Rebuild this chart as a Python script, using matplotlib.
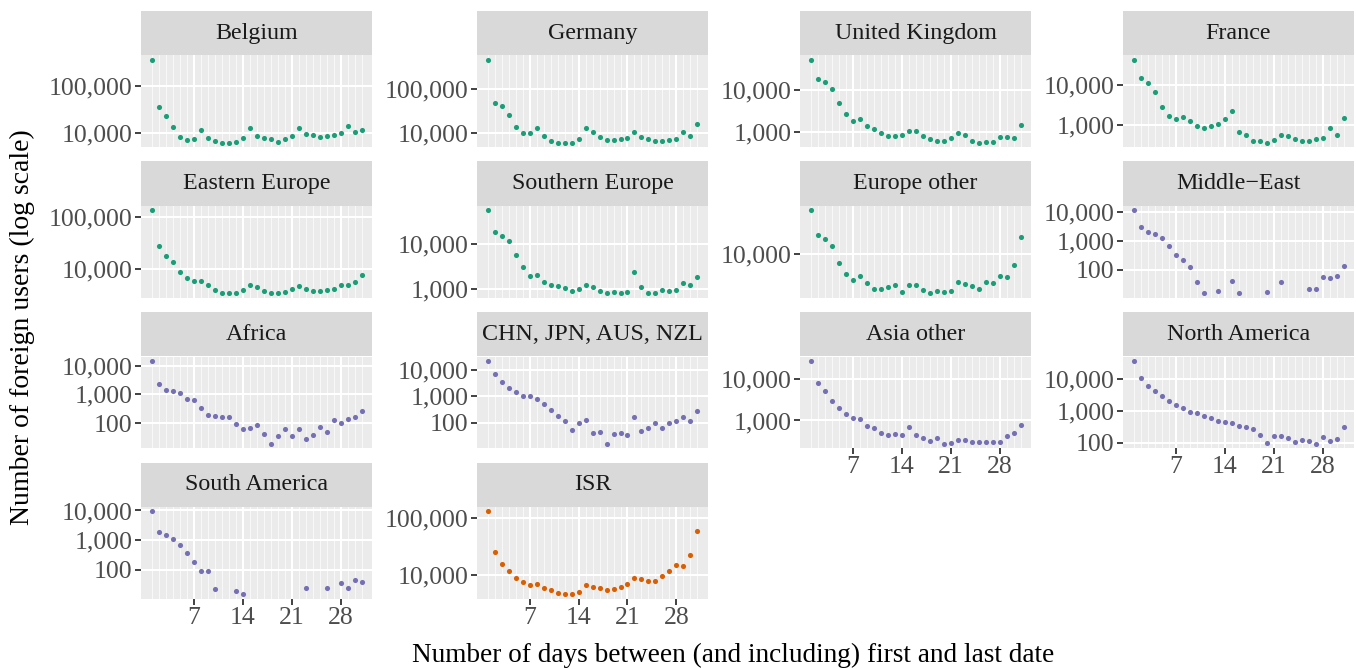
import numpy as np
import matplotlib
matplotlib.use("Agg")
import matplotlib.pyplot as plt
from matplotlib.ticker import FixedLocator, FuncFormatter, NullLocator

nan = np.nan
days = list(range(1, 32))

belgium = [366000, 35400, 23200, 13600, 8200, 7000, 7500, 11600, 7700, 6800, 6150, 6250, 6550, 7950, 12800,
           8650, 7700, 7500, 6550, 7500, 8400, 13000, 9700, 8900, 8100, 8800, 9100, 10150, 14300, 10500, 11600]
germany = [461000, 49400, 40900, 25300, 13600, 10200, 10200, 13400, 8570, 6850, 6080, 6080, 6080, 7470, 13400,
           10700, 8420, 7210, 7210, 7340, 8000, 10900, 8420, 7600, 6730, 6850, 7090, 7470, 10520, 8570, 15900]
united_kingdom = [53000, 18200, 15400, 10700, 4840, 2610, 1820, 1990, 1390, 1180, 947, 805, 790, 850, 1056,
                  1038, 819, 696, 602, 602, 735, 930, 865, 613, 549, 560, 571, 762, 762, 721, 1436]
france = [42800, 14900, 11400, 6730, 2930, 1730, 1430, 1630, 1280, 945, 876, 963, 1080, 1460, 2210,
          685, 578, 412, 404, 368, 445, 589, 537, 453, 420, 420, 461, 489, 860, 589, 1545]
eastern_europe = [138700, 27900, 17900, 13300, 8500, 6400, 5600, 5600, 4690, 3810, 3280, 3280, 3330, 3870, 4690,
                  4420, 3590, 3380, 3380, 3530, 4040, 4620, 4040, 3640, 3640, 3810, 3980, 4690, 4690, 5430, 7530]
southern_europe = [56200, 18700, 15000, 11850, 5710, 3110, 1940, 1970, 1430, 1180, 1125, 1050, 889, 966, 1205,
                   1088, 889, 816, 830, 789, 830, 2370, 1107, 816, 816, 935, 873, 919, 1312, 1180, 1806]
europe_other = [54800, 21000, 18200, 13400, 7080, 4530, 3590, 4190, 3290, 2610, 2580, 2750, 3010, 2330, 3040,
                2960, 2480, 2180, 2360, 2330, 2420, 3330, 3160, 2850, 2610, 3370, 3290, 4190, 4030, 6640, 19700]
middle_east = [11400, 2900, 2010, 1670, 1220, 648, 310, 209, 127, 38, 15, nan, 18, nan, 41,
               16, nan, nan, nan, 17, nan, 36, nan, nan, nan, 22, 21, 55, 52, 59, 137]
africa = [14800, 2230, 1470, 1290, 1100, 702, 615, 327, 198, 178, 161, 161, 92, 62, 69,
          83, 43, 19, 36, 62, 36, 61, 28, 38, 75, 48, 127, 103, 141, 165, 272]
chn_jpn_aus_nzl = [22300, 6900, 3370, 2070, 1510, 1070, 986, 762, 511, 305, 188, 119, 53, 97, 133,
                   40, 46, 16, 37, 42, 35, 172, 49, 65, 97, 65, 97, 112, 167, 122, 280]
asia_other = [27400, 7740, 4990, 2940, 2040, 1420, 1120, 1060, 747, 645, 490, 448, 482, 440, 693,
              440, 380, 316, 387, 274, 289, 347, 347, 299, 299, 310, 305, 310, 416, 499, 789]
north_america = [38000, 11000, 6210, 4240, 2890, 2020, 1520, 1280, 920, 857, 691, 585, 494, 439, 429,
                 338, 307, 266, 173, 100, 161, 165, 143, 110, 124, 118, 93, 154, 118, 133, 314]
south_america = [9500, 1850, 1470, 1080, 680, 369, 185, 93, 93, 23, nan, nan, 20, 15, nan,
                 nan, nan, nan, nan, nan, nan, nan, 24, nan, nan, 24, nan, 35, 24, 44, 38]
isr = [133000, 25000, 15600, 11700, 8900, 7500, 6600, 6900, 5900, 5400, 4800, 4600, 4600, 5000, 6600,
       6200, 5900, 5400, 5600, 6200, 6900, 8900, 8500, 7900, 7900, 9600, 11700, 14900, 14300, 22400, 59000]

facet_names = ["Belgium", "Germany", "United Kingdom", "France",
               "Eastern Europe", "Southern Europe", "Europe other", "Middle\u2212East",
               "Africa", "CHN, JPN, AUS, NZL", "Asia other", "North America",
               "South America", "ISR"]
facet_values = [belgium, germany, united_kingdom, france,
                eastern_europe, southern_europe, europe_other, middle_east,
                africa, chn_jpn_aus_nzl, asia_other, north_america,
                south_america, isr]
facet_group = ["europe"] * 7 + ["other"] * 6 + ["isr"]
group_colors = {"europe": "#1B9E77", "other": "#7570B3", "isr": "#D95F02"}

x_breaks = [7, 14, 21, 28]
y_breaks = [10.0 ** k for k in range(0, 7)]

plt.rcParams["font.family"] = ["Liberation Serif", "DejaVu Serif"]

W, H = 1356, 669
fig = plt.figure(figsize=(W / 100, H / 100), dpi=100)

col_left = [141, 477, 800, 1123]
panel_w = 231
row_top = [11, 161.5, 312, 462.5]
strip_h = 44.5
panel_h = 91.5


def px_box(x0, y0, w, h):
    # pixel box (top-left origin) -> figure fraction rect
    return [x0 / W, 1 - (y0 + h) / H, w / W, h / H]


def comma(v, pos):
    return f"{v:,.0f}"


n_cols = 4
n = len(facet_names)
for i, (name, vals) in enumerate(zip(facet_names, facet_values)):
    r, c = divmod(i, n_cols)
    x0 = col_left[c]
    y0 = row_top[r]

    strip = fig.add_axes(px_box(x0, y0, panel_w, strip_h))
    strip.set_facecolor("#D9D9D9")
    strip.set_xticks([])
    strip.set_yticks([])
    for s in strip.spines.values():
        s.set_visible(False)
    strip.text(0.5, 0.5, name, ha="center", va="center", fontsize=17.3,
               color="#1A1A1A", transform=strip.transAxes)

    ax = fig.add_axes(px_box(x0, y0 + strip_h, panel_w, panel_h))
    ax.set_facecolor("#EBEBEB")
    for s in ax.spines.values():
        s.set_visible(False)

    v = np.array(vals, dtype=float)
    ax.set_yscale("log")
    ax.plot(days, v, "o", color=group_colors[facet_group[i]], markersize=3.7,
            markeredgewidth=0, zorder=3)

    lv = np.log10(v[~np.isnan(v)])
    lo, hi = lv.min(), lv.max()
    pad = (hi - lo) * 0.05
    ax.set_ylim(10 ** (lo - pad), 10 ** (hi + pad))
    ax.set_xlim(-0.5, 32.5)

    ax.xaxis.set_major_locator(FixedLocator(x_breaks))
    ax.xaxis.set_minor_locator(FixedLocator([d for d in days if d not in x_breaks]))
    ax.yaxis.set_major_locator(FixedLocator(y_breaks))
    ax.yaxis.set_major_formatter(FuncFormatter(comma))
    ax.yaxis.set_minor_locator(NullLocator())

    ax.grid(True, which="major", color="white", linewidth=1.5, zorder=0)
    ax.grid(True, which="minor", axis="x", color="white", linewidth=0.6, alpha=0.8, zorder=0)
    ax.set_axisbelow(True)

    ax.tick_params(axis="both", which="major", length=4, width=1.3, color="#333333",
                   labelsize=18.5, labelcolor="#4D4D4D", pad=2)
    ax.tick_params(axis="x", which="minor", length=0)

    # x labels only on the lowest panel of each column
    has_below = i + n_cols < n
    if has_below:
        ax.tick_params(axis="x", which="major", length=0, labelbottom=False)

fig.text(733 / W, 1 - 655 / H, "Number of days between (and including) first and last date",
         ha="center", va="center", fontsize=19.6, color="black")
fig.text(22 / W, 1 - 327 / H, "Number of foreign users (log scale)", ha="center", va="center",
         rotation=90, fontsize=20, color="black")

fig.savefig("out.png", dpi=100)
